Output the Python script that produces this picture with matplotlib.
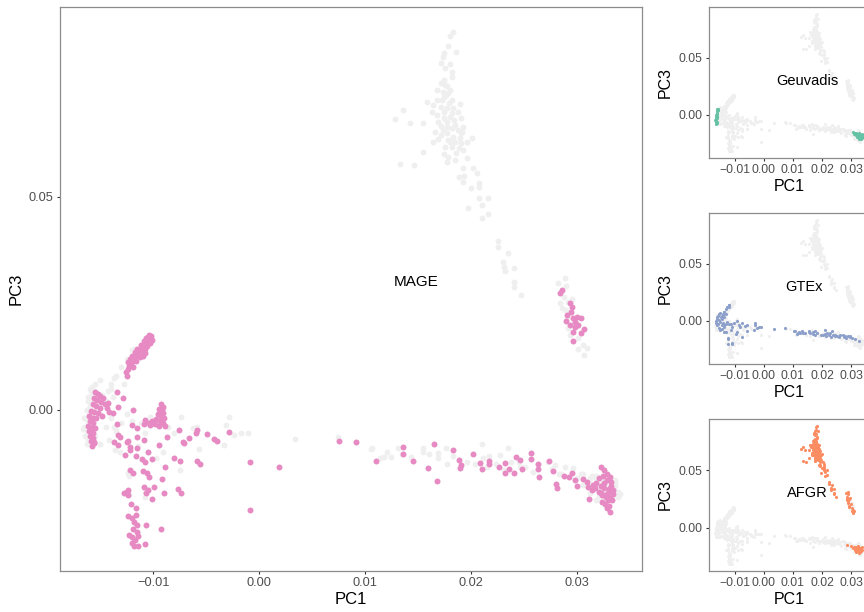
import matplotlib
matplotlib.use("Agg")
from matplotlib import pyplot as plt
from matplotlib.ticker import FuncFormatter

plt.rcParams['font.family'] = ['Liberation Sans', 'DejaVu Sans']

# PC1, PC3 coordinates
mage_points = [
    # upper-left diagonal cluster
    (-0.0125, 0.0080), (-0.0126, 0.0089), (-0.0124, 0.0096), (-0.0123, 0.0103), (-0.0121, 0.0110),
    (-0.0119, 0.0115), (-0.0117, 0.0122), (-0.0115, 0.0129), (-0.0114, 0.0136), (-0.0112, 0.0143),
    (-0.0110, 0.0148), (-0.0108, 0.0155), (-0.0107, 0.0160), (-0.0105, 0.0164), (-0.0103, 0.0169),
    (-0.0102, 0.0174), (-0.0104, 0.0176), (-0.0107, 0.0169), (-0.0109, 0.0162), (-0.0112, 0.0153),
    (-0.0115, 0.0143), (-0.0117, 0.0136), (-0.0120, 0.0127), (-0.0122, 0.0120), (-0.0124, 0.0113),
    (-0.0111, 0.0136), (-0.0108, 0.0143), (-0.0106, 0.0150), (-0.0103, 0.0157), (-0.0101, 0.0164),
    (-0.0113, 0.0124), (-0.0116, 0.0115), (-0.0108, 0.0134), (-0.0119, 0.0101), (-0.0109, 0.0155),
    (-0.0105, 0.0171), (-0.0110, 0.0127),
    # left vertical cluster
    (-0.0155, 0.0042), (-0.0152, 0.0038), (-0.0150, 0.0033), (-0.0156, 0.0028), (-0.0153, 0.0023),
    (-0.0149, 0.0019), (-0.0146, 0.0014), (-0.0157, 0.0014), (-0.0154, 0.0009), (-0.0150, 0.0005),
    (-0.0144, 0.0005), (-0.0159, -0.0002), (-0.0156, -0.0005), (-0.0152, -0.0007), (-0.0161, -0.0014),
    (-0.0157, -0.0019), (-0.0154, -0.0019), (-0.0160, -0.0026), (-0.0157, -0.0031), (-0.0162, -0.0038),
    (-0.0158, -0.0042), (-0.0155, -0.0042), (-0.0161, -0.0049), (-0.0157, -0.0054), (-0.0160, -0.0061),
    (-0.0157, -0.0066), (-0.0159, -0.0073), (-0.0156, -0.0075), (-0.0158, -0.0084), (-0.0147, 0.0028),
    (-0.0142, -0.0005), (-0.0148, -0.0014),
    # middle cluster
    (-0.0093, 0.0014), (-0.0091, 0.0007), (-0.0095, 0.0002), (-0.0092, -0.0002), (-0.0091, -0.0007),
    (-0.0096, -0.0009), (-0.0093, -0.0014), (-0.0090, -0.0019), (-0.0097, -0.0021), (-0.0094, -0.0026),
    (-0.0091, -0.0031), (-0.0098, -0.0033), (-0.0101, -0.0026), (-0.0104, -0.0031), (-0.0089, -0.0038),
    (-0.0095, -0.0038), (-0.0103, -0.0035),
    # scattered, upper part
    (-0.0134, 0.0042), (-0.0129, 0.0028), (-0.0133, 0.0007), (-0.0138, -0.0007), (-0.0143, 0.0016),
    (-0.0119, 0.0000), (-0.0134, -0.0033), (-0.0120, -0.0035), (-0.0109, -0.0033), (-0.0115, -0.0042),
    (-0.0108, -0.0023), (-0.0133, -0.0059), (-0.0115, -0.0063), (-0.0131, -0.0063), (-0.0124, -0.0073),
    (-0.0087, -0.0063), (-0.0076, -0.0047), (-0.0072, -0.0075), (-0.0066, -0.0066), (-0.0059, -0.0047),
    (-0.0049, -0.0056), (-0.0043, -0.0068), (-0.0040, -0.0073), (-0.0029, -0.0052), (-0.0060, -0.0054),
    # scattered, lower part
    (-0.0156, -0.0077), (-0.0137, -0.0075), (-0.0133, -0.0082), (-0.0125, -0.0075), (-0.0122, -0.0087),
    (-0.0122, -0.0094), (-0.0115, -0.0089), (-0.0109, -0.0070), (-0.0095, -0.0082), (-0.0071, -0.0077),
    (-0.0127, -0.0106), (-0.0116, -0.0108), (-0.0111, -0.0115), (-0.0108, -0.0122), (-0.0105, -0.0099),
    (-0.0101, -0.0115), (-0.0089, -0.0134), (-0.0080, -0.0113), (-0.0075, -0.0120), (-0.0059, -0.0120),
    (-0.0056, -0.0127), (-0.0122, -0.0141), (-0.0119, -0.0148), (-0.0110, -0.0143), (-0.0106, -0.0148),
    (-0.0104, -0.0157), (-0.0092, -0.0162), (-0.0109, -0.0181), (-0.0105, -0.0188), (-0.0099, -0.0181),
    (-0.0107, -0.0195), (-0.0101, -0.0209), (-0.0090, -0.0195), (-0.0077, -0.0185), (-0.0074, -0.0195),
    (-0.0128, -0.0195), (-0.0124, -0.0188), (-0.0124, -0.0199), (-0.0125, -0.0192), (-0.0121, -0.0221),
    (-0.0116, -0.0230), (-0.0124, -0.0249), (-0.0120, -0.0253), (-0.0116, -0.0246), (-0.0118, -0.0263),
    (-0.0115, -0.0270), (-0.0107, -0.0270), (-0.0093, -0.0279), (-0.0119, -0.0279), (-0.0115, -0.0286),
    (-0.0123, -0.0293), (-0.0120, -0.0298), (-0.0114, -0.0296), (-0.0117, -0.0305), (-0.0120, -0.0312),
    (-0.0118, -0.0319), (-0.0114, -0.0319), (-0.0108, -0.0314),
    (-0.0009, -0.0235), (-0.0009, -0.0122), (0.0019, -0.0134),
    # along the line
    (0.0075, -0.0073), (0.0091, -0.0075), (0.0110, -0.0120), (0.0136, -0.0087), (0.0136, -0.0103),
    (0.0145, -0.0120), (0.0159, -0.0136), (0.0165, -0.0080), (0.0168, -0.0167), (0.0183, -0.0094),
    (0.0188, -0.0117), (0.0190, -0.0129), (0.0189, -0.0136), (0.0202, -0.0103), (0.0208, -0.0124),
    (0.0210, -0.0138), (0.0217, -0.0120), (0.0217, -0.0127), (0.0226, -0.0134), (0.0232, -0.0124),
    (0.0232, -0.0148), (0.0236, -0.0138), (0.0240, -0.0148), (0.0242, -0.0110), (0.0246, -0.0117),
    (0.0248, -0.0138), (0.0256, -0.0101), (0.0256, -0.0115), (0.0263, -0.0127), (0.0263, -0.0138),
    (0.0264, -0.0157), (0.0273, -0.0120), (0.0277, -0.0143), (0.0280, -0.0174), (0.0281, -0.0183),
    (0.0287, -0.0155), (0.0292, -0.0157), (0.0295, -0.0148), (0.0298, -0.0164), (0.0300, -0.0178),
    (0.0305, -0.0162), (0.0309, -0.0169), (0.0310, -0.0181), (0.0311, -0.0209), (0.0314, -0.0188),
    (0.0315, -0.0176), (0.0322, -0.0134), (0.0325, -0.0141), (0.0322, -0.0195), (0.0326, -0.0199),
    (0.0329, -0.0211), (0.0331, -0.0239), (0.0328, -0.0230),
    # dense right cluster
    (0.0320, -0.0160), (0.0324, -0.0155), (0.0328, -0.0164), (0.0332, -0.0169), (0.0318, -0.0171),
    (0.0322, -0.0178), (0.0325, -0.0183), (0.0330, -0.0185), (0.0334, -0.0188), (0.0320, -0.0192),
    (0.0323, -0.0199), (0.0327, -0.0204), (0.0331, -0.0207), (0.0323, -0.0216), (0.0326, -0.0221),
    (0.0330, -0.0225), (0.0333, -0.0211), (0.0325, -0.0171), (0.0329, -0.0195), (0.0317, -0.0183),
    (0.0332, -0.0178), (0.0328, -0.0150), (0.0331, -0.0157), (0.0334, -0.0197),
    # upper right cluster
    (0.0284, 0.0275), (0.0286, 0.0282), (0.0293, 0.0251), (0.0295, 0.0242), (0.0290, 0.0223),
    (0.0289, 0.0209), (0.0296, 0.0216), (0.0300, 0.0218), (0.0303, 0.0216), (0.0293, 0.0199),
    (0.0298, 0.0195), (0.0301, 0.0199), (0.0306, 0.0190), (0.0303, 0.0181), (0.0296, 0.0183),
    (0.0296, 0.0162), (0.0294, 0.0230), (0.0298, 0.0207),
]

afgr_points = [
    (0.0183, 0.0887), (0.0180, 0.0878), (0.0178, 0.0854), (0.0186, 0.0840), (0.0174, 0.0838),
    (0.0173, 0.0828), (0.0171, 0.0814), (0.0180, 0.0812), (0.0175, 0.0803), (0.0182, 0.0793),
    (0.0182, 0.0782), (0.0174, 0.0775), (0.0171, 0.0767), (0.0177, 0.0760), (0.0168, 0.0751),
    (0.0173, 0.0746), (0.0178, 0.0744), (0.0174, 0.0735), (0.0182, 0.0728), (0.0189, 0.0718),
    (0.0168, 0.0728), (0.0164, 0.0716), (0.0158, 0.0723), (0.0171, 0.0711), (0.0177, 0.0709),
    (0.0183, 0.0709), (0.0187, 0.0699), (0.0136, 0.0704), (0.0128, 0.0683), (0.0142, 0.0674),
    (0.0154, 0.0674), (0.0163, 0.0699), (0.0168, 0.0692), (0.0174, 0.0685), (0.0180, 0.0688),
    (0.0184, 0.0681), (0.0190, 0.0685), (0.0192, 0.0664), (0.0191, 0.0652), (0.0187, 0.0657),
    (0.0182, 0.0662), (0.0177, 0.0664), (0.0171, 0.0667), (0.0166, 0.0652), (0.0171, 0.0645),
    (0.0177, 0.0650), (0.0183, 0.0641), (0.0189, 0.0638), (0.0201, 0.0638), (0.0196, 0.0629),
    (0.0190, 0.0627), (0.0185, 0.0629), (0.0178, 0.0634), (0.0164, 0.0629), (0.0169, 0.0636),
    (0.0192, 0.0610), (0.0188, 0.0615), (0.0182, 0.0617), (0.0174, 0.0601), (0.0178, 0.0594),
    (0.0185, 0.0587), (0.0177, 0.0582), (0.0196, 0.0591), (0.0154, 0.0606), (0.0133, 0.0577),
    (0.0146, 0.0575), (0.0192, 0.0568), (0.0202, 0.0568), (0.0205, 0.0556), (0.0188, 0.0547),
    (0.0192, 0.0535), (0.0193, 0.0549), (0.0200, 0.0521), (0.0207, 0.0533), (0.0207, 0.0523),
    (0.0207, 0.0498), (0.0216, 0.0498), (0.0210, 0.0481), (0.0197, 0.0474), (0.0216, 0.0460),
    (0.0210, 0.0451), (0.0225, 0.0397), (0.0225, 0.0383), (0.0235, 0.0368), (0.0230, 0.0347),
    (0.0231, 0.0336), (0.0240, 0.0333), (0.0240, 0.0300), (0.0240, 0.0289), (0.0247, 0.0270),
    (0.0232, 0.0326), (0.0175, 0.0763), (0.0180, 0.0751), (0.0176, 0.0739), (0.0172, 0.0728),
    (0.0179, 0.0721), (0.0174, 0.0699), (0.0182, 0.0697), (0.0177, 0.0676), (0.0185, 0.0669),
    (0.0173, 0.0657), (0.0180, 0.0629), (0.0175, 0.0617), (0.0186, 0.0603), (0.0169, 0.0676),
    (0.0190, 0.0650),
    # upper right cluster
    (0.0288, 0.0310), (0.0282, 0.0298), (0.0289, 0.0291), (0.0287, 0.0265), (0.0284, 0.0251),
    (0.0286, 0.0239), (0.0289, 0.0235), (0.0291, 0.0253), (0.0295, 0.0261), (0.0291, 0.0192),
    (0.0301, 0.0169), (0.0305, 0.0153), (0.0301, 0.0143), (0.0309, 0.0146), (0.0306, 0.0129),
    (0.0293, 0.0176), (0.0290, 0.0216), (0.0298, 0.0207),
    # bottom right cluster
    (0.0300, -0.0160), (0.0310, -0.0170), (0.0318, -0.0165), (0.0325, -0.0175), (0.0330, -0.0180),
    (0.0335, -0.0185), (0.0322, -0.0190), (0.0315, -0.0182), (0.0328, -0.0195), (0.0334, -0.0200),
    (0.0320, -0.0205), (0.0330, -0.0210), (0.0312, -0.0195), (0.0326, -0.0220), (0.0336, -0.0170),
    (0.0305, -0.0175), (0.0285, -0.0150), (0.0318, -0.0212), (0.0338, -0.0192), (0.0324, -0.0160),
]

gtex_points = [
    # left cluster
    (-0.0165, -0.0020), (-0.0163, 0.0000), (-0.0160, 0.0020), (-0.0158, 0.0040), (-0.0155, 0.0060),
    (-0.0150, 0.0070), (-0.0160, -0.0040), (-0.0155, -0.0060), (-0.0150, -0.0080), (-0.0145, -0.0040),
    (-0.0150, -0.0010), (-0.0145, 0.0020), (-0.0140, 0.0050), (-0.0135, 0.0080), (-0.0130, 0.0100),
    (-0.0125, 0.0120), (-0.0120, 0.0140), (-0.0140, -0.0020), (-0.0135, -0.0050), (-0.0130, -0.0030),
    (-0.0125, -0.0010), (-0.0155, 0.0010), (-0.0148, 0.0035), (-0.0142, -0.0070), (-0.0162, 0.0030),
    (-0.0157, -0.0030), (-0.0138, 0.0030), (-0.0128, 0.0060), (-0.0120, -0.0025), (-0.0112, -0.0030),
    (-0.0118, 0.0142), (-0.0120, 0.0118), (-0.0137, 0.0075), (-0.0143, 0.0045), (-0.0140, 0.0060),
    # scattered
    (-0.0091, 0.0003), (-0.0086, -0.0040), (-0.0108, -0.0055), (-0.0080, -0.0055), (-0.0059, -0.0040),
    (-0.0057, -0.0092), (-0.0031, -0.0035), (-0.0017, -0.0055), (-0.0123, -0.0156), (-0.0108, -0.0191),
    (-0.0097, -0.0113), (-0.0131, -0.0098), (-0.0114, -0.0084), (-0.0137, -0.0040), (-0.0103, -0.0017),
    (-0.0074, -0.0017), (-0.0029, -0.0017), (0.0034, -0.0069), (0.0074, -0.0064), (-0.0123, -0.0199),
    (-0.0091, -0.0098), (-0.0033, -0.0082), (-0.0024, -0.0059), (-0.0011, -0.0054), (-0.0063, -0.0042),
    (-0.0108, -0.0204), (-0.0075, -0.0141), (-0.0124, -0.0148), (-0.0136, -0.0094),
    # along the line
    (0.0105, -0.0092), (0.0120, -0.0098), (0.0135, -0.0104), (0.0154, -0.0098), (0.0169, -0.0113),
    (0.0183, -0.0107), (0.0196, -0.0121), (0.0211, -0.0113), (0.0223, -0.0127), (0.0237, -0.0121),
    (0.0251, -0.0133), (0.0263, -0.0127), (0.0276, -0.0139), (0.0288, -0.0133), (0.0303, -0.0150),
    (0.0325, -0.0179), (0.0143, -0.0110), (0.0203, -0.0127), (0.0231, -0.0142), (0.0245, -0.0121),
    (0.0258, -0.0145), (0.0272, -0.0121), (0.0283, -0.0150), (0.0295, -0.0145), (0.0314, -0.0156),
    (0.0114, -0.0113), (0.0177, -0.0127), (0.0217, -0.0107), (0.0106, -0.0089), (0.0118, -0.0110),
    (0.0124, -0.0110), (0.0131, -0.0089), (0.0154, -0.0089), (0.0160, -0.0103), (0.0169, -0.0101),
    (0.0176, -0.0089), (0.0210, -0.0080), (0.0235, -0.0089), (0.0215, -0.0134), (0.0227, -0.0106),
    (0.0246, -0.0134), (0.0279, -0.0129), (0.0296, -0.0136),
]

geuvadis_points = [
    (-0.0160, 0.0050), (-0.0158, 0.0040), (-0.0160, 0.0030), (-0.0162, 0.0020), (-0.0160, 0.0010),
    (-0.0163, 0.0000), (-0.0161, -0.0010), (-0.0164, -0.0020), (-0.0162, -0.0030), (-0.0165, -0.0040),
    (-0.0163, -0.0050), (-0.0164, -0.0060), (-0.0162, -0.0070), (-0.0163, -0.0080), (-0.0158, 0.0055),
    (-0.0156, 0.0045), (-0.0159, -0.0015), (-0.0166, -0.0045), (-0.0160, -0.0065),
    (0.0305, -0.0150), (0.0312, -0.0160), (0.0318, -0.0155), (0.0322, -0.0168), (0.0328, -0.0160),
    (0.0318, -0.0172), (0.0325, -0.0175), (0.0330, -0.0180), (0.0335, -0.0190), (0.0322, -0.0185),
    (0.0315, -0.0178), (0.0328, -0.0200), (0.0338, -0.0205), (0.0332, -0.0212), (0.0340, -0.0198),
    (0.0320, -0.0195), (0.0336, -0.0165), (0.0310, -0.0168), (0.0336, -0.0178), (0.0326, -0.0208),
]

x_ticks = [-0.01, 0.00, 0.01, 0.02, 0.03]
y_ticks = [0.00, 0.05]
x_lim = (-0.0188, 0.0361)
y_lim = (-0.0378, 0.0946)

all_points = mage_points + afgr_points + gtex_points + geuvadis_points
grey = '#EFEFEF'
spine_col = '#8C8C8C'


def fmt(v, pos):
    s = '%.2f' % abs(v)
    return ('\u2212' + s) if v < -1e-9 else s


def panel(ax, pts, color, label, label_x, size, tick_fs, title_fs, label_fs):
    ax.scatter([p[0] for p in all_points], [p[1] for p in all_points],
               s=size, c=grey, linewidths=0, zorder=1)
    ax.scatter([p[0] for p in pts], [p[1] for p in pts],
               s=size, c=color, linewidths=0, zorder=2)
    ax.text(label_x, 0.030, label, ha='center', va='center', fontsize=label_fs, zorder=3)
    ax.set_xlim(*x_lim)
    ax.set_ylim(*y_lim)
    ax.set_xticks(x_ticks)
    ax.set_yticks(y_ticks)
    ax.xaxis.set_major_formatter(FuncFormatter(fmt))
    ax.yaxis.set_major_formatter(FuncFormatter(fmt))
    ax.tick_params(length=2.5, width=0.8, color='#333333', labelcolor='#4D4D4D',
                   labelsize=tick_fs, pad=2)
    for sp in ax.spines.values():
        sp.set_color(spine_col)
        sp.set_linewidth(0.9)
    ax.set_xlabel('PC1', fontsize=title_fs, labelpad=2)
    ax.set_ylabel('PC3', fontsize=title_fs, labelpad=4)


fig = plt.figure(figsize=(8.64, 6.12), dpi=100)

ax_main = fig.add_axes([60 / 864, 1 - 571 / 612, 582 / 864, 564 / 612])
panel(ax_main, mage_points, '#E78AC3', 'MAGE', 0.0148, 18, 9.2, 12, 11)

small = [
    (geuvadis_points, '#66C2A5', 'Geuvadis', 0.0150, 7, 158),
    (gtex_points, '#8DA0CB', 'GTEx', 0.0137, 213, 364),
    (afgr_points, '#FC8D62', 'AFGR', 0.0149, 419, 571),
]
for pts, col, name, lx, top, bottom in small:
    ax = fig.add_axes([709 / 864, 1 - bottom / 612, 160 / 864, (bottom - top) / 612])
    panel(ax, pts, col, name, lx, 5, 8.8, 11.5, 10.5)

plt.savefig('out.png', dpi=100)
